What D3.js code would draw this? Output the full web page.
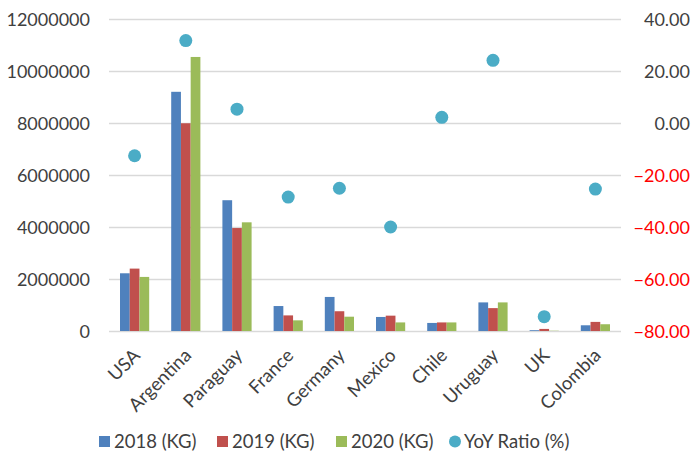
<!DOCTYPE html>
<html><head><meta charset="utf-8">
<script src="https://cdn.jsdelivr.net/npm/d3@7"></script>
<style>body{margin:0;background:#fff}svg{display:block}text{font-family:Lato,"Open Sans",sans-serif}</style>
</head><body><svg id="c" width="692" height="453"></svg>
<script>
const categories = ["USA","Argentina","Paraguay","France","Germany","Mexico","Chile","Uruguay","UK","Colombia"];
const series2018 = [2220000,9200000,5030000,960000,1310000,540000,310000,1100000,30000,220000];
const series2019 = [2400000,7990000,3960000,600000,760000,590000,330000,880000,80000,350000];
const series2020 = [2080000,10540000,4180000,410000,550000,330000,330000,1100000,10000,260000];
const yoyRatio = [-12.6,31.7,5.3,-28.5,-25.1,-40.0,2.2,24.1,-74.5,-25.4];
const leftTicks = [0,2000000,4000000,6000000,8000000,10000000,12000000];
const rightTicks = [-80,-60,-40,-20,0,20,40];
const seriesNames = ["2018 (KG)","2019 (KG)","2020 (KG)"];
const seriesData = [series2018, series2019, series2020];
const colors = ["#4F81BD","#C0504D","#9BBB59"];
const dotColor = "#4BACC6";

const svg = d3.select("#c");
const L = 109, R = 621, T = 19, B = 331;
const x = d3.scaleBand().domain(categories).range([L,R]).paddingInner(0).paddingOuter(0);
const y = d3.scaleLinear().domain([0,12000000]).range([B,T]);
const y2 = d3.scaleLinear().domain([-80,40]).range([B,T]);
const bw = x.bandwidth()*0.19;
const xs = d3.scaleBand().domain([0,1,2]).range([0,bw*3]);

// gridlines
svg.append("g").selectAll("line").data(leftTicks).join("line")
  .attr("x1",L).attr("x2",R).attr("y1",d=>Math.round(y(d))+0.5).attr("y2",d=>Math.round(y(d))+0.5)
  .attr("stroke","#D9D9D9").attr("stroke-width",1.5);

// left axis
const la = svg.append("g").attr("transform",`translate(${L-19},0)`)
  .call(d3.axisLeft(y).tickValues(leftTicks).tickSize(0).tickPadding(0).tickFormat(d3.format("d")));
la.select(".domain").remove();
la.selectAll("text").attr("fill","#404040").style("font-size","18px").attr("dy","0.35em");

// right axis
const ra = svg.append("g").attr("transform",`translate(690,0)`)
  .call(d3.axisLeft(y2).tickValues(rightTicks).tickSize(0).tickPadding(0).tickFormat(d3.format(".2f")));
ra.select(".domain").remove();
ra.selectAll("text").attr("fill",d=>d<0?"#FF0000":"#404040").style("font-size","18px").attr("dy","0.35em");

// bars
const groups = svg.append("g").selectAll("g").data(categories).join("g")
  .attr("transform",d=>`translate(${x(d)+x.bandwidth()/2-bw*1.5},0)`);
groups.selectAll("rect").data((d,i)=>seriesData.map((s,k)=>({k,v:s[i]}))).join("rect")
  .attr("x",d=>xs(d.k)).attr("width",xs.bandwidth())
  .attr("y",d=>y(d.v)).attr("height",d=>B-y(d.v))
  .attr("fill",d=>colors[d.k]);

// dots
svg.append("g").selectAll("circle").data(yoyRatio).join("circle")
  .attr("cx",(d,i)=>x(categories[i])+x.bandwidth()/2).attr("cy",d=>y2(d))
  .attr("r",6.5).attr("fill",dotColor);

// x labels
const xa = svg.append("g").attr("transform",`translate(0,${B})`)
  .call(d3.axisBottom(x).tickSize(0).tickPadding(0));
xa.select(".domain").remove();
xa.selectAll("text").attr("fill","#404040").style("font-size","18.5px")
  .attr("text-anchor","end").attr("dy","0.35em")
  .attr("transform","translate(2,21) rotate(-45)");

// legend
const leg = [
  {name:seriesNames[0],c:colors[0],x:99,t:"r"},
  {name:seriesNames[1],c:colors[1],x:217,t:"r"},
  {name:seriesNames[2],c:colors[2],x:336,t:"r"},
  {name:"YoY Ratio (%)",c:dotColor,x:449,t:"c"}
];
const lg = svg.append("g");
leg.forEach(l=>{
  if(l.t==="r") lg.append("rect").attr("x",l.x).attr("y",436).attr("width",11).attr("height",11).attr("fill",l.c);
  else lg.append("circle").attr("cx",l.x+6).attr("cy",441.5).attr("r",6).attr("fill",l.c);
  lg.append("text").attr("x",l.x+15).attr("y",441.5).attr("dy","0.35em").attr("fill","#404040")
    .style("font-size","18.5px").text(l.name);
});
</script></body></html>
